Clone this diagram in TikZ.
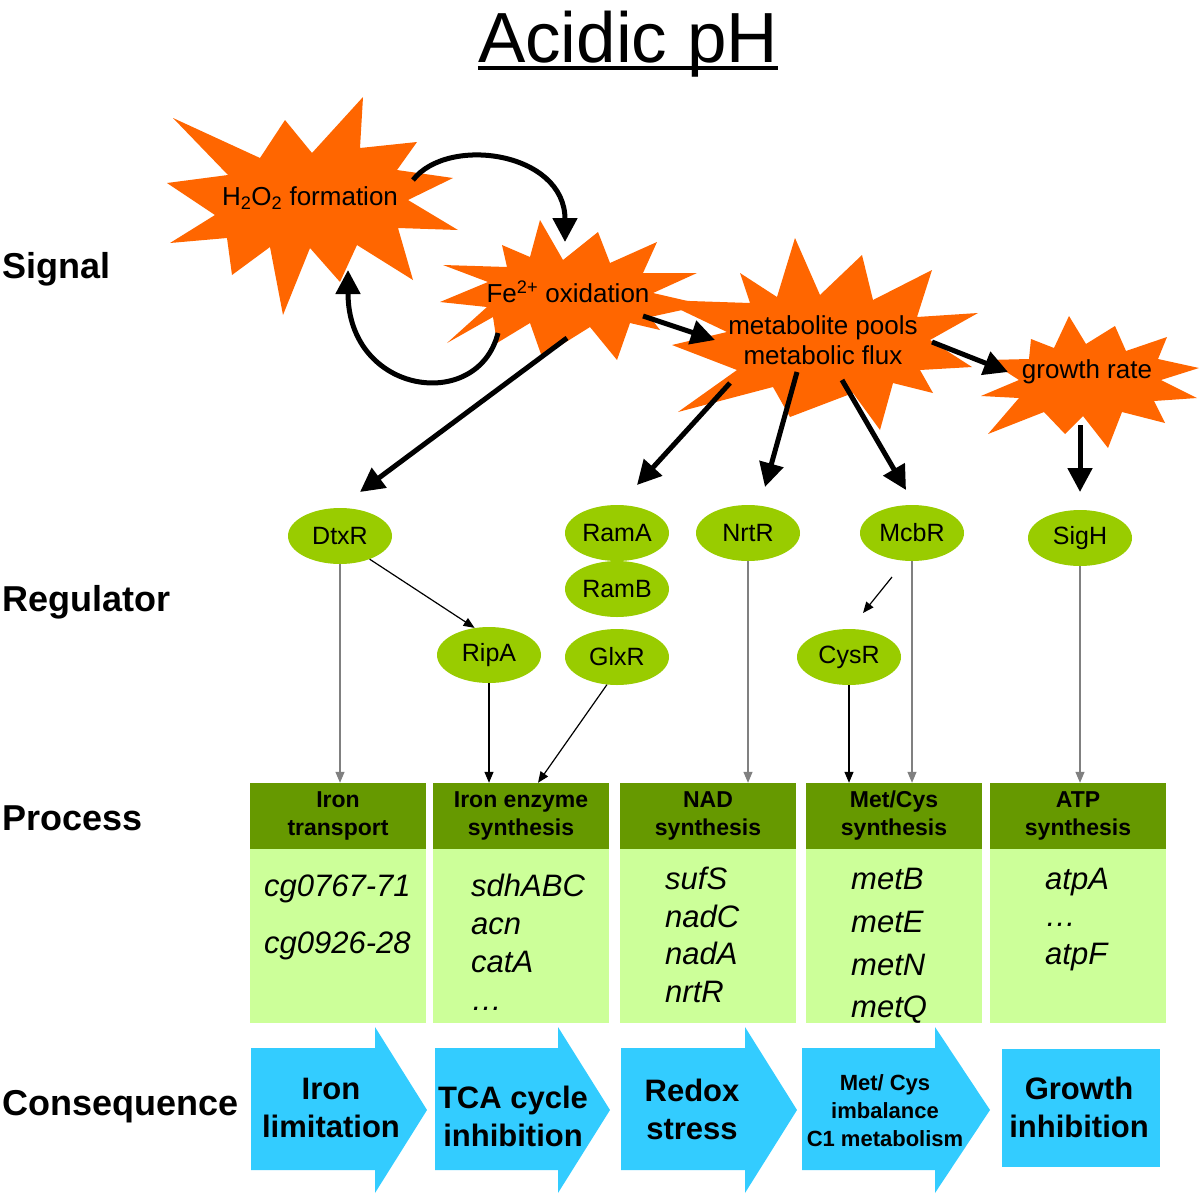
\documentclass[tikz,border=0pt]{standalone}
\usepackage{fontspec}
\setmainfont{Liberation Sans}
\usetikzlibrary{arrows.meta,calc,shapes.geometric}
\definecolor{starorange}{HTML}{FF6600}
\definecolor{reggreen}{HTML}{99CC00}
\definecolor{hdrgreen}{HTML}{669900}
\definecolor{bodygreen}{HTML}{CCFF99}
\definecolor{conscyan}{HTML}{33CCFF}
\definecolor{linegrey}{HTML}{808080}
\begin{document}
\begin{tikzpicture}[x=1pt,y=-1pt,
  startext/.style={font=\fontsize{26pt}{30pt}\selectfont, align=center, inner sep=0pt},
  reg/.style={ellipse, fill=reggreen, minimum width=104pt, minimum height=56pt, inner sep=0pt, font=\fontsize{25pt}{30pt}\selectfont},
  rowlabel/.style={anchor=base west, inner sep=0pt, font=\bfseries\fontsize{36pt}{40pt}\selectfont},
  hdr/.style={rectangle, fill=hdrgreen, minimum width=176pt, minimum height=66pt, inner sep=0pt, align=center, font=\bfseries\fontsize{23pt}{28pt}\selectfont},
  bodybox/.style={rectangle, fill=bodygreen, minimum width=176pt, minimum height=174pt, inner sep=0pt, anchor=north},
  gene/.style={anchor=base west, inner sep=0pt, font=\itshape\fontsize{31pt}{36pt}\selectfont},
  constext/.style={align=center, inner sep=0pt, font=\bfseries\fontsize{31pt}{38pt}\selectfont},
  bigarrow/.style={line width=5pt, -{Triangle[length=24pt,width=24pt]}},
  thinarrow/.style={line width=1.2pt, -{Triangle[length=11pt,width=9pt]}}
]
\useasboundingbox (0,0) rectangle (1200,1200);
\fill[white] (0,0) rectangle (1200,1200);

% title
\node[anchor=base, inner sep=0pt, font=\fontsize{71pt}{80pt}\selectfont] (title) at (628,62) {Acidic pH};
\draw[line width=3.5pt] ([yshift=-6pt]title.base west) -- ([yshift=-6pt]title.base east);

% row labels
\node[rowlabel] (lsignal) at (2,278) {Signal};
\node[rowlabel] (lreg) at (2,611) {Regulator};
\node[rowlabel] (lproc) at (2,830) {Process};
\node[rowlabel] (lcons) at (2,1115) {Consequence};

% stars
\fill[starorange] (167,183) -- (228,175) -- (173,118) -- (260,158) -- (285,120) -- (312,153) -- (363,97) -- (360,148) -- (417,142) -- (397,170) -- (453,178) -- (408,200) -- (458,230) -- (398,228) -- (413,280) -- (357,245) -- (340,282) -- (310,248) -- (283,315) -- (270,247) -- (232,275) -- (227,238) -- (170,243) -- (215,215) -- cycle;
\fill[starorange] (440,302) -- (488,282) -- (443,265) -- (507,267) -- (502,245) -- (530,257) -- (540,220) -- (563,260) -- (598,232) -- (610,263) -- (657,242) -- (643,273) -- (697,273) -- (653,293) -- (705,305) -- (650,317) -- (660,330) -- (630,323) -- (617,360) -- (590,327) -- (542,357) -- (530,323) -- (497,343) -- (493,317) -- (447,343) -- (487,307) -- cycle;
\fill[starorange] (672,345) -- (727,332) -- (660,300) -- (750,303) -- (740,273) -- (777,297) -- (795,238) -- (820,295) -- (862,255) -- (873,300) -- (932,270) -- (917,317) -- (978,313) -- (930,340) -- (972,367) -- (920,370) -- (933,393) -- (893,383) -- (880,430) -- (853,393) -- (790,417) -- (773,387) -- (678,412) -- (737,370) -- cycle;
\fill[starorange] (981,396) -- (1019,380) -- (988,360) -- (1029,359) -- (1031,339) -- (1054,348) -- (1069,316) -- (1086,344) -- (1115,326) -- (1126,351) -- (1167,337) -- (1158,359) -- (1199,368) -- (1161,380) -- (1197,398) -- (1154,401) -- (1165,423) -- (1122,412) -- (1108,448) -- (1083,416) -- (1065,434) -- (1044,412) -- (988,434) -- (1019,398) -- cycle;

\node[startext] (h2o2) at (310,198) {H\textsubscript{2}O\textsubscript{2} formation};
\node[startext] (fe) at (568,292) {Fe\textsuperscript{2+} oxidation};
\node[startext] (meta) at (823,340) {metabolite pools\\metabolic flux};
\node[startext] (growth) at (1087,372) {growth rate};

% regulators
\node[reg] (dtxr) at (340,536) {DtxR};
\node[reg] (rama) at (617,533) {RamA};
\node[reg] (ramb) at (617,589) {RamB};
\node[reg] (ripa) at (489,655) {RipA};
\node[reg] (glxr) at (617,657) {GlxR};
\node[reg] (nrtr) at (748,533) {NrtR};
\node[reg] (mcbr) at (912,533) {McbR};
\node[reg] (cysr) at (849,657) {CysR};
\node[reg] (sigh) at (1080,538) {SigH};

% signal arrows
\draw[bigarrow] ([shift={(103,-18)}]h2o2.center) .. controls +(35,-45) and +(0,-90) .. ([shift={(-3,-50)}]fe.center);
\draw[bigarrow] ([shift={(-70,41)}]fe.center) .. controls +(-20,80) and +(0,125) .. ([shift={(38,72)}]h2o2.center);
\draw[bigarrow] ([shift={(75,24)}]fe.center) -- ([shift={(-108,0)}]meta.center);
\draw[bigarrow] ([shift={(109,2)}]meta.center) -- ([shift={(-79,0)}]growth.center);
\draw[bigarrow] ([shift={(-1,46)}]fe.center) -- ([shift={(20,-44)}]dtxr.center);
\draw[bigarrow] ([shift={(-93,43)}]meta.center) -- ([shift={(20,-48)}]rama.center);
\draw[bigarrow] ([shift={(-26,32)}]meta.center) -- ([shift={(17,-46)}]nrtr.center);
\draw[bigarrow] ([shift={(19,40)}]meta.center) -- ([shift={(-6,-43)}]mcbr.center);
\draw[bigarrow] ([shift={(-7,53)}]growth.center) -- ([shift={(0,-46)}]sigh.center);

% process boxes
\node[hdr] (p1) at (338,816) {Iron\\transport};
\node[hdr] (p2) at (521,816) {Iron enzyme\\synthesis};
\node[hdr] (p3) at (708,816) {NAD\\synthesis};
\node[hdr] (p4) at (894,816) {Met/Cys\\synthesis};
\node[hdr] (p5) at (1078,816) {ATP\\synthesis};
\node[bodybox] (b1) at (p1.south) {};
\node[bodybox] (b2) at (p2.south) {};
\node[bodybox] (b3) at (p3.south) {};
\node[bodybox] (b4) at (p4.south) {};
\node[bodybox] (b5) at (p5.south) {};

\node[gene] (g1a) at (264,896) {cg0767-71};
\node[gene] (g1b) at (264,953) {cg0926-28};
\node[gene] (g2a) at (471,896) {sdhABC};
\node[gene] (g2b) at (471,934) {acn};
\node[gene] (g2c) at (471,972) {catA};
\node[gene] (g2d) at (471,1010) {\ldots};
\node[gene] (g3a) at (665,889) {sufS};
\node[gene] (g3b) at (665,927) {nadC};
\node[gene] (g3c) at (665,964) {nadA};
\node[gene] (g3d) at (665,1002) {nrtR};
\node[gene] (g4a) at (851,889) {metB};
\node[gene] (g4b) at (851,932) {metE};
\node[gene] (g4c) at (851,975) {metN};
\node[gene] (g4d) at (851,1017) {metQ};
\node[gene] (g5a) at (1045,889) {atpA};
\node[gene] (g5b) at (1045,926) {\ldots};
\node[gene] (g5c) at (1045,964) {atpF};

% regulator arrows
\draw[thinarrow, draw=linegrey] (dtxr.south) -- (dtxr.south |- p1.north);
\draw[thinarrow] (dtxr.-38) -- (ripa.118);
\draw[thinarrow] (ripa.south) -- (ripa.south |- p2.north);
\draw[thinarrow] (glxr.250) -- ([xshift=17pt]p2.north);
\draw[thinarrow, draw=linegrey] (nrtr.south) -- (nrtr.south |- p3.north);
\draw[thinarrow] ([shift={(-20,44)}]mcbr.center) -- ([shift={(14,-44)}]cysr.center);
\draw[thinarrow] (cysr.south) -- (cysr.south |- p4.north);
\draw[thinarrow, draw=linegrey] (mcbr.south) -- (mcbr.south |- p4.north);
\draw[thinarrow, draw=linegrey] (sigh.south) -- (sigh.south |- p5.north);

% consequences
\fill[conscyan] (251,1048) -- (375,1048) -- (375,1027) -- (427,1110) -- (375,1193) -- (375,1170) -- (251,1170) -- cycle;
\fill[conscyan] (435,1048) -- (558,1048) -- (558,1027) -- (610,1110) -- (558,1193) -- (558,1170) -- (435,1170) -- cycle;
\fill[conscyan] (621,1048) -- (745,1048) -- (745,1027) -- (797,1110) -- (745,1193) -- (745,1170) -- (621,1170) -- cycle;
\fill[conscyan] (802,1048) -- (935,1048) -- (935,1027) -- (990,1110) -- (935,1193) -- (935,1170) -- (802,1170) -- cycle;
\fill[conscyan] (1002,1049) rectangle (1160,1167);
\node[constext] (c1) at (331,1108) {Iron\\limitation};
\node[constext] (c2) at (513,1116) {TCA cycle\\inhibition};
\node[constext] (c3) at (692,1109) {Redox\\stress};
\node[constext, font=\bfseries\fontsize{22pt}{28pt}\selectfont] (c4) at (885,1111) {Met/ Cys\\imbalance\\C1 metabolism};
\node[constext] (c5) at (1079,1107) {Growth\\inhibition};
\end{tikzpicture}
\end{document}
